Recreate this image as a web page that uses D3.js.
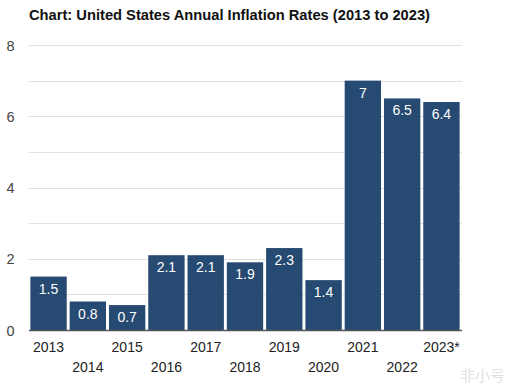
<!DOCTYPE html>
<html><head><meta charset="utf-8">
<script src="https://cdn.jsdelivr.net/npm/d3@7"></script>
<style>body{margin:0;background:#fff;}svg{display:block;}</style>
</head><body>
<script>
const years = ["2013","2014","2015","2016","2017","2018","2019","2020","2021","2022","2023*"];
const rates = [1.5,0.8,0.7,2.1,2.1,1.9,2.3,1.4,7,6.5,6.4];
const yTicks = [0,2,4,6,8];
const gridTicks = [1,2,3,4,5,6,7,8];
const title = "Chart: United States Annual Inflation Rates (2013 to 2023)";

const W=518,H=390;
const svg=d3.select("body").append("svg").attr("width",W).attr("height",H);
const font="'Liberation Sans', Arial, sans-serif";
const x=d3.scaleBand().domain(years).range([30,460]).paddingInner(0.075).paddingOuter(0.01);
const y=d3.scaleLinear().domain([0,8]).range([330,45]);

svg.append("text").attr("x",29).attr("y",20).attr("font-family",font).attr("font-weight","bold")
  .attr("font-size",14.7).attr("fill","#111").text(title);

svg.append("g").selectAll("line").data(gridTicks).join("line")
  .attr("x1",29).attr("x2",462).attr("y1",d=>Math.round(y(d))+0.5).attr("y2",d=>Math.round(y(d))+0.5)
  .attr("stroke","#e0e0e0").attr("stroke-width",1);

const yAxis=d3.axisLeft(y).tickValues(yTicks).tickSize(0).tickPadding(0);
const ga=svg.append("g").attr("transform","translate(10.5,0)").call(yAxis);
ga.select(".domain").remove();
ga.selectAll("text").attr("font-family",font).attr("font-size",14.5).attr("fill","#444").attr("text-anchor","middle").attr("dy","0.36em");

svg.append("g").selectAll("rect").data(rates).join("rect")
  .attr("x",(d,i)=>x(years[i])).attr("width",x.bandwidth())
  .attr("y",d=>y(d)).attr("height",d=>y(0)-y(d)).attr("fill","#264a72");

svg.append("g").selectAll("text").data(rates).join("text")
  .attr("x",(d,i)=>x(years[i])+x.bandwidth()/2).attr("y",d=>y(d)+17)
  .attr("text-anchor","middle").attr("font-family",font).attr("font-size",14).attr("fill","#fff").text(d=>d);

svg.append("line").attr("x1",29).attr("x2",462).attr("y1",330.5).attr("y2",330.5).attr("stroke","#555").attr("stroke-width",1.5);

const xAxis=d3.axisBottom(x).tickSize(0).tickPadding(0);
const gx=svg.append("g").attr("transform","translate(0,0)").call(xAxis);
gx.select(".domain").remove();
gx.selectAll(".tick").attr("transform",d=>`translate(${x(d)+x.bandwidth()/2},0)`);
gx.selectAll("text").attr("font-family",font).attr("font-size",14).attr("fill","#222")
  .attr("y",(d,i)=>i%2===0?352:372).attr("dy",0);

svg.append("text").attr("x",505).attr("y",381).attr("text-anchor","end")
  .attr("font-family","'Noto Sans CJK SC', sans-serif").attr("font-size",15).attr("fill","#e2e2e2").text("非小号");
</script>
</body></html>
